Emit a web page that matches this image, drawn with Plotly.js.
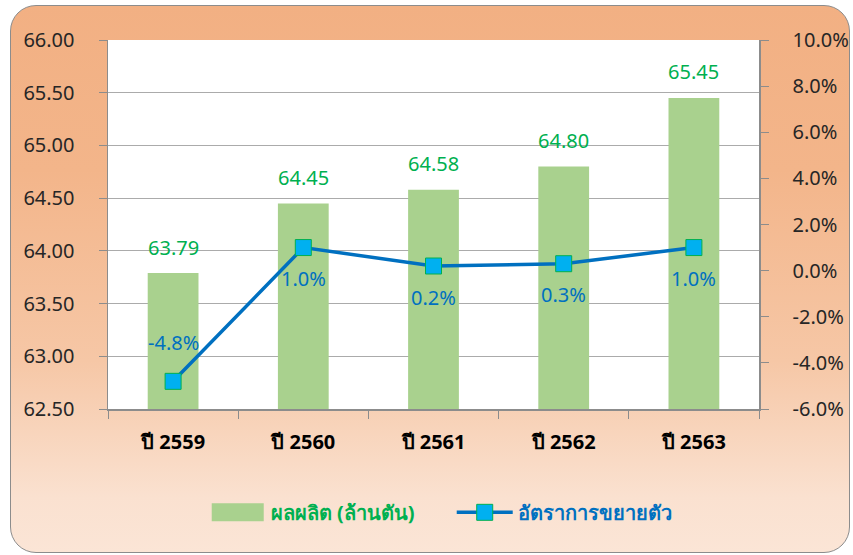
<!DOCTYPE html>
<html><head><meta charset="utf-8">
<script src="https://cdn.plot.ly/plotly-3.0.1.min.js"></script>
<style>
html,body{margin:0;padding:0;width:853px;height:555px;overflow:hidden;background:#fff;}
#bg{position:absolute;left:10px;top:5px;width:838px;height:546px;border:1.5px solid #8c8c8c;border-radius:26px;
background:linear-gradient(to bottom,#F2B083 0%,#F3B58A 30%,#F6C7A6 65%,#FAE1D0 90%,#FBE5D6 100%);}
#chart{position:absolute;left:0;top:0;width:853px;height:555px;}
</style></head>
<body><div id="bg"></div><div id="chart"></div>
<script>
const years = ['ปี 2559','ปี 2560','ปี 2561','ปี 2562','ปี 2563'];
const production = [63.79, 64.45, 64.58, 64.80, 65.45];
const growth = [-4.8, 1.0, 0.2, 0.3, 1.0];
const growthLabels = ['-4.8%','1.0%','0.2%','0.3%','1.0%'];
const growthLabelAbove = [true, false, false, false, false];
const leftTicks = [62.5,63,63.5,64,64.5,65,65.5,66];
const rightTicks = [-6,-4,-2,0,2,4,6,8,10];

const FONT = 'Noto Sans, DejaVu Sans, sans-serif';
const GREEN = '#00B050', BLUE = '#0070C0';

const traces = [
  {type:'bar', x:years, y:production, name:'<b>ผลผลิต (ล้านตัน)</b>',
   marker:{color:'#A9D18E'}, yaxis:'y', hoverinfo:'none'},
  {type:'scatter', mode:'lines+markers', x:years, y:growth,
   name:'<b><span style="color:'+BLUE+'">อัตราการขยายตัว</span></b>', yaxis:'y2',
   line:{color:BLUE, width:3.5},
   marker:{symbol:'square', size:16, color:'#00B0F0', line:{color:GREEN, width:1}}, hoverinfo:'none'}
];

const annotations = [];
years.forEach((c,i)=>{
  annotations.push({x:c, y:production[i], xref:'x', yref:'y', text:production[i].toFixed(2),
    showarrow:false, yshift:26, font:{family:FONT, size:20, color:GREEN}});
  annotations.push({x:c, y:growth[i], xref:'x', yref:'y2', text:growthLabels[i],
    showarrow:false, yshift: growthLabelAbove[i] ? 39 : -31, font:{family:FONT, size:20, color:BLUE}});
});

const layout = {
  width:853, height:555,
  margin:{l:108, r:94, t:40, b:146},
  paper_bgcolor:'rgba(0,0,0,0)', plot_bgcolor:'#ffffff',
  font:{family:FONT, size:20, color:'#262626'},
  bargap:0.61,
  showlegend:true,
  legend:{orientation:'h', x:0.528, xanchor:'center', y:-0.28, yanchor:'middle',
    font:{family:FONT, size:20, color:GREEN}, itemwidth:56, traceorder:'normal', bgcolor:'rgba(0,0,0,0)',
    entrywidth:176},
  xaxis:{type:'category', categoryarray:years, tickson:'boundaries', ticks:'outside', ticklen:8,
    tickcolor:'#8c8c8c', showline:true, linecolor:'#8c8c8c', linewidth:1.5, showgrid:false,
    tickfont:{family:FONT, size:20, color:'#000', weight:'bold'}, ticklabelstandoff:14},
  yaxis:{range:[62.5,66], tickvals:leftTicks, ticktext:leftTicks.map(v=>v.toFixed(2)),
    ticks:'outside', ticklen:8, tickcolor:'#8c8c8c', showline:true, linecolor:'#8c8c8c', linewidth:1.5,
    showgrid:true, gridcolor:'#ababab', gridwidth:1.2, zeroline:false,
    tickfont:{family:FONT, size:20, color:'#262626'}, ticklabelstandoff:20},
  yaxis2:{overlaying:'y', side:'right', range:[-6,10], tickvals:rightTicks, ticktext:rightTicks.map(v=>v.toFixed(1)+'%'),
    ticks:'outside', ticklen:8, tickcolor:'#8c8c8c', showline:true, linecolor:'#8c8c8c', linewidth:1.5,
    showgrid:false, zeroline:false,
    tickfont:{family:FONT, size:20, color:'#262626'}, ticklabelstandoff:20},
  annotations:annotations
};

Plotly.newPlot('chart', traces, layout, {displayModeBar:false, staticPlot:true}).then(gd=>{
  // enlarge the bar legend swatch to match the reference
  const items = gd.querySelectorAll('.legend .traces');
  if (items.length) {
    const p = items[0].querySelector('.legendpoints path');
    if (p) p.setAttribute('d','M26,9H-26V-9H26Z');
  }
});
</script></body></html>
